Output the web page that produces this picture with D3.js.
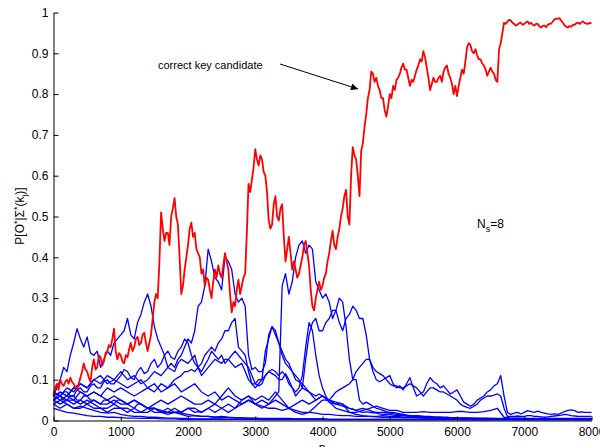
<!DOCTYPE html>
<html>
<head>
<meta charset="utf-8">
<script src="https://cdn.jsdelivr.net/npm/d3@7"></script>
<style>
body { margin: 0; background: #fff; }
svg { display: block; font-family: "Liberation Sans", Arial, Helvetica, sans-serif; }
</style>
</head>
<body>
<svg id="chart" width="600" height="447"></svg>
<script>
// tick labels
var xTicks = [0, 1000, 2000, 3000, 4000, 5000, 6000, 7000, 8000];
var yTicks = [0, 0.1, 0.2, 0.3, 0.4, 0.5, 0.6, 0.7, 0.8, 0.9, 1];

// the correct key candidate, sampled every 25 n
var redStep = 25;
var correctKey = [
	0.06, 0.08, 0.09, 0.075, 0.10, 0.09, 0.085, 0.095, 0.10, 0.09, 0.105, 0.095, 0.09, 0.08, 0.076, 0.09, 0.105, 0.12, 0.14, 0.125,
	0.12, 0.105, 0.095, 0.13, 0.15, 0.125, 0.13, 0.16, 0.155, 0.135, 0.145, 0.165, 0.17, 0.185, 0.18, 0.20, 0.225, 0.17, 0.15, 0.165,
	0.16, 0.145, 0.14, 0.16, 0.155, 0.175, 0.19, 0.17, 0.18, 0.20, 0.205, 0.185, 0.19, 0.21, 0.215, 0.19, 0.17, 0.19, 0.21, 0.25,
	0.29, 0.31, 0.30, 0.39, 0.51, 0.47, 0.44, 0.46, 0.46, 0.43, 0.50, 0.52, 0.545, 0.50, 0.48, 0.40, 0.31, 0.33, 0.37, 0.40,
	0.43, 0.47, 0.485, 0.45, 0.46, 0.42, 0.41, 0.40, 0.36, 0.37, 0.33, 0.35, 0.345, 0.32, 0.30, 0.34, 0.37, 0.35, 0.38, 0.36,
	0.35, 0.38, 0.41, 0.39, 0.37, 0.31, 0.265, 0.29, 0.28, 0.32, 0.345, 0.31, 0.33, 0.35, 0.36, 0.46, 0.58, 0.56, 0.59, 0.62,
	0.665, 0.64, 0.625, 0.65, 0.64, 0.61, 0.60, 0.56, 0.49, 0.47, 0.48, 0.53, 0.55, 0.50, 0.49, 0.52, 0.53, 0.45, 0.39, 0.42,
	0.45, 0.41, 0.37, 0.39, 0.37, 0.35, 0.36, 0.38, 0.40, 0.43, 0.44, 0.41, 0.38, 0.32, 0.28, 0.27, 0.30, 0.32, 0.34, 0.32,
	0.33, 0.35, 0.36, 0.39, 0.41, 0.44, 0.465, 0.43, 0.42, 0.45, 0.47, 0.50, 0.52, 0.55, 0.565, 0.50, 0.48, 0.60, 0.67, 0.65,
	0.64, 0.60, 0.55, 0.66, 0.68, 0.72, 0.75, 0.79, 0.81, 0.855, 0.85, 0.83, 0.84, 0.82, 0.81, 0.79, 0.79, 0.76, 0.745, 0.77,
	0.80, 0.79, 0.82, 0.81, 0.835, 0.84, 0.85, 0.865, 0.875, 0.86, 0.86, 0.84, 0.82, 0.835, 0.83, 0.845, 0.86, 0.87, 0.885, 0.88,
	0.905, 0.89, 0.865, 0.84, 0.81, 0.825, 0.84, 0.83, 0.83, 0.84, 0.845, 0.83, 0.855, 0.865, 0.87, 0.85, 0.84, 0.825, 0.80, 0.82,
	0.795, 0.82, 0.84, 0.86, 0.85, 0.88, 0.915, 0.925, 0.92, 0.905, 0.90, 0.91, 0.895, 0.885, 0.885, 0.875, 0.87, 0.86, 0.845, 0.855,
	0.865, 0.855, 0.85, 0.835, 0.83, 0.91, 0.925, 0.95, 0.975, 0.972, 0.978, 0.982, 0.98, 0.975, 0.972, 0.968, 0.97, 0.974, 0.975, 0.97,
	0.972, 0.976, 0.978, 0.972, 0.975, 0.97, 0.968, 0.972, 0.972, 0.966, 0.963, 0.967, 0.968, 0.964, 0.97, 0.972, 0.973, 0.978, 0.983, 0.985,
	0.985, 0.986, 0.98, 0.975, 0.968, 0.965, 0.963, 0.967, 0.965, 0.97, 0.97, 0.974, 0.975, 0.972, 0.976, 0.978, 0.974, 0.973, 0.972, 0.975,
	0.973
];

// wrong key candidates; the prominent ones every 50 n, the flat ones every 100 n
var wrongP = [
	0.06, 0.08, 0.10, 0.13, 0.12, 0.16, 0.19, 0.225, 0.20, 0.18, 0.205, 0.165, 0.16, 0.17, 0.13, 0.15, 0.17, 0.16, 0.19, 0.20,
	0.21, 0.22, 0.25, 0.21, 0.20, 0.24, 0.26, 0.29, 0.31, 0.28, 0.23, 0.20, 0.18, 0.16, 0.13, 0.14, 0.13, 0.15, 0.16, 0.18,
	0.20, 0.19, 0.22, 0.28, 0.29, 0.33, 0.42, 0.39, 0.35, 0.34, 0.32, 0.40, 0.39, 0.37, 0.31, 0.29, 0.30, 0.28, 0.16, 0.125,
	0.13, 0.12, 0.12, 0.14, 0.21, 0.23, 0.21, 0.19, 0.17, 0.15, 0.14, 0.12, 0.10, 0.095, 0.09, 0.08, 0.07, 0.065, 0.06, 0.065,
	0.06, 0.055, 0.05, 0.045, 0.04, 0.042, 0.04, 0.035, 0.03, 0.028, 0.025, 0.022, 0.02, 0.021, 0.02, 0.019, 0.018, 0.016, 0.015, 0.015,
	0.015, 0.013, 0.012, 0.012, 0.012, 0.011, 0.01, 0.01, 0.01, 0.01, 0.01, 0.009, 0.008, 0.008, 0.008, 0.008, 0.007, 0.007, 0.007, 0.007,
	0.006, 0.006, 0.006, 0.006, 0.005, 0.005, 0.005, 0.005, 0.005, 0.005, 0.004, 0.004, 0.004, 0.004, 0.004, 0.004, 0.004, 0.004, 0.004, 0.004,
	0.004, 0.004, 0.003, 0.003, 0.003, 0.003, 0.003, 0.003, 0.003, 0.003, 0.003, 0.003, 0.003, 0.003, 0.003, 0.003, 0.003, 0.003, 0.003, 0.003,
	0.003
];
var wrongQ = [
	0.05, 0.055, 0.06, 0.05, 0.05, 0.06, 0.06, 0.05, 0.05, 0.06, 0.06, 0.05, 0.05, 0.045, 0.04, 0.05, 0.05, 0.045, 0.04, 0.05,
	0.05, 0.045, 0.04, 0.035, 0.03, 0.04, 0.04, 0.035, 0.03, 0.03, 0.03, 0.025, 0.02, 0.025, 0.03, 0.025, 0.02, 0.022, 0.02, 0.025,
	0.03, 0.025, 0.02, 0.022, 0.02, 0.025, 0.03, 0.025, 0.02, 0.025, 0.03, 0.035, 0.04, 0.035, 0.03, 0.035, 0.04, 0.045, 0.05, 0.045,
	0.04, 0.045, 0.05, 0.045, 0.04, 0.05, 0.06, 0.07, 0.33, 0.36, 0.31, 0.34, 0.40, 0.43, 0.44, 0.41, 0.43, 0.42, 0.34, 0.32,
	0.30, 0.31, 0.29, 0.25, 0.27, 0.30, 0.29, 0.23, 0.15, 0.10, 0.10, 0.05, 0.04, 0.045, 0.04, 0.035, 0.03, 0.028, 0.025, 0.022,
	0.02, 0.02, 0.018, 0.016, 0.015, 0.013, 0.012, 0.011, 0.01, 0.009, 0.008, 0.008, 0.008, 0.007, 0.007, 0.007, 0.007, 0.006, 0.006, 0.006,
	0.006, 0.005, 0.005, 0.005, 0.005, 0.005, 0.005, 0.004, 0.004, 0.004, 0.004, 0.004, 0.004, 0.004, 0.004, 0.004, 0.004, 0.004, 0.004, 0.004,
	0.004, 0.004, 0.004, 0.003, 0.003, 0.003, 0.003, 0.003, 0.003, 0.003, 0.003, 0.003, 0.003, 0.003, 0.003, 0.003, 0.003, 0.003, 0.003, 0.003,
	0.003
];
var wrongR = [
	0.07, 0.065, 0.06, 0.07, 0.07, 0.06, 0.06, 0.075, 0.08, 0.07, 0.07, 0.085, 0.09, 0.08, 0.08, 0.095, 0.10, 0.09, 0.09, 0.10,
	0.11, 0.125, 0.12, 0.105, 0.10, 0.12, 0.13, 0.115, 0.12, 0.14, 0.15, 0.13, 0.14, 0.16, 0.17, 0.155, 0.15, 0.17, 0.18, 0.20,
	0.19, 0.16, 0.14, 0.13, 0.12, 0.135, 0.15, 0.17, 0.16, 0.15, 0.16, 0.14, 0.15, 0.16, 0.17, 0.16, 0.15, 0.14, 0.13, 0.11,
	0.09, 0.085, 0.09, 0.11, 0.12, 0.115, 0.11, 0.10, 0.10, 0.115, 0.10, 0.08, 0.06, 0.07, 0.08, 0.15, 0.21, 0.24, 0.25, 0.22,
	0.22, 0.24, 0.25, 0.27, 0.27, 0.24, 0.22, 0.25, 0.26, 0.28, 0.27, 0.25, 0.25, 0.21, 0.15, 0.12, 0.10, 0.095, 0.10, 0.105,
	0.11, 0.09, 0.08, 0.085, 0.075, 0.09, 0.105, 0.08, 0.06, 0.065, 0.07, 0.09, 0.105, 0.095, 0.09, 0.08, 0.085, 0.075, 0.065, 0.07,
	0.075, 0.06, 0.045, 0.04, 0.035, 0.04, 0.05, 0.055, 0.06, 0.07, 0.075, 0.085, 0.09, 0.11, 0.06, 0.02, 0.015, 0.018, 0.02, 0.016,
	0.02, 0.024, 0.022, 0.02, 0.023, 0.02, 0.018, 0.016, 0.015, 0.016, 0.015, 0.018, 0.022, 0.025, 0.026, 0.024, 0.02, 0.021, 0.02, 0.02,
	0.02
];
var wrongS = [
	0.05, 0.055, 0.06, 0.07, 0.08, 0.075, 0.07, 0.08, 0.09, 0.085, 0.08, 0.09, 0.10, 0.095, 0.09, 0.10, 0.11, 0.105, 0.10, 0.11,
	0.12, 0.11, 0.10, 0.105, 0.11, 0.10, 0.09, 0.095, 0.10, 0.11, 0.12, 0.115, 0.11, 0.12, 0.13, 0.125, 0.12, 0.14, 0.15, 0.145,
	0.14, 0.15, 0.16, 0.13, 0.11, 0.12, 0.13, 0.14, 0.15, 0.145, 0.14, 0.15, 0.15, 0.14, 0.13, 0.135, 0.14, 0.12, 0.10, 0.09,
	0.08, 0.09, 0.10, 0.17, 0.20, 0.23, 0.22, 0.19, 0.16, 0.14, 0.13, 0.12, 0.11, 0.10, 0.08, 0.075, 0.07, 0.06, 0.05, 0.055,
	0.06, 0.055, 0.05, 0.06, 0.07, 0.075, 0.08, 0.085, 0.09, 0.10, 0.12, 0.13, 0.14, 0.15, 0.15, 0.13, 0.12, 0.115, 0.11, 0.10,
	0.09, 0.085, 0.085, 0.08, 0.08, 0.085, 0.09, 0.085, 0.08, 0.07, 0.06, 0.07, 0.08, 0.08, 0.075, 0.07, 0.07, 0.065, 0.06, 0.055,
	0.05, 0.04, 0.035, 0.032, 0.03, 0.035, 0.04, 0.05, 0.055, 0.06, 0.06, 0.062, 0.065, 0.06, 0.03, 0.01, 0.01, 0.01, 0.011, 0.01,
	0.01, 0.012, 0.012, 0.01, 0.01, 0.009, 0.008, 0.009, 0.01, 0.011, 0.012, 0.013, 0.015, 0.014, 0.012, 0.011, 0.01, 0.01, 0.01, 0.01,
	0.01
];
var wrongT = [
	0.04, 0.045, 0.05, 0.055, 0.06, 0.055, 0.05, 0.06, 0.07, 0.065, 0.06, 0.065, 0.07, 0.065, 0.06, 0.07, 0.08, 0.075, 0.07, 0.075,
	0.08, 0.075, 0.07, 0.065, 0.06, 0.065, 0.07, 0.075, 0.08, 0.075, 0.07, 0.08, 0.09, 0.085, 0.08, 0.09, 0.10, 0.105, 0.11, 0.12,
	0.12, 0.125, 0.12, 0.13, 0.14, 0.16, 0.17, 0.18, 0.17, 0.19, 0.20, 0.22, 0.22, 0.24, 0.25, 0.18, 0.17, 0.16, 0.12, 0.09,
	0.09, 0.10, 0.10, 0.11, 0.12, 0.125, 0.12, 0.11, 0.12, 0.11, 0.09, 0.08, 0.07, 0.08, 0.11, 0.18, 0.24, 0.22, 0.16, 0.11,
	0.08, 0.06, 0.045, 0.042, 0.04, 0.038, 0.035, 0.032, 0.03, 0.028, 0.025, 0.028, 0.03, 0.027, 0.025, 0.022, 0.02, 0.02, 0.02, 0.019,
	0.018, 0.017, 0.015, 0.015, 0.015, 0.013, 0.012, 0.012, 0.012, 0.011, 0.01, 0.01, 0.01, 0.009, 0.008, 0.008, 0.008, 0.008, 0.007, 0.007,
	0.007, 0.006, 0.006, 0.006, 0.006, 0.005, 0.005, 0.005, 0.005, 0.005, 0.005, 0.005, 0.004, 0.004, 0.004, 0.004, 0.004, 0.004, 0.004, 0.004,
	0.003, 0.003, 0.003, 0.003, 0.003, 0.003, 0.003, 0.003, 0.003, 0.003, 0.003, 0.003, 0.003, 0.003, 0.003, 0.003, 0.003, 0.003, 0.003, 0.003,
	0.003
];
var wrongM = [
	0.06, 0.07, 0.06, 0.08, 0.09, 0.08, 0.10, 0.11, 0.09, 0.10, 0.09,
	0.08, 0.09, 0.10, 0.08, 0.09, 0.07, 0.08, 0.09, 0.07, 0.08,
	0.09, 0.07, 0.06, 0.07, 0.05, 0.06, 0.05, 0.04, 0.05, 0.04,
	0.035, 0.03, 0.03, 0.025, 0.03, 0.025, 0.02, 0.02, 0.018, 0.015,
	0.015, 0.013, 0.012, 0.012, 0.01, 0.01, 0.01, 0.009, 0.008, 0.008,
	0.008, 0.007, 0.007, 0.007, 0.006, 0.006, 0.006, 0.006, 0.005, 0.005,
	0.005, 0.005, 0.005, 0.005, 0.005, 0.005, 0.005, 0.005, 0.005, 0.005,
	0.004, 0.004, 0.004, 0.004, 0.004, 0.004, 0.004, 0.004, 0.004, 0.004
];
var wrongU = [
	0.05, 0.04, 0.05, 0.04, 0.05, 0.04, 0.05, 0.04, 0.04, 0.05, 0.04,
	0.04, 0.05, 0.04, 0.03, 0.04, 0.05, 0.04, 0.05, 0.06, 0.05,
	0.04, 0.04, 0.05, 0.04, 0.06, 0.08, 0.06, 0.05, 0.06, 0.04,
	0.03, 0.04, 0.05, 0.04, 0.03, 0.04, 0.05, 0.04, 0.05, 0.06,
	0.045, 0.03, 0.025, 0.02, 0.02, 0.025, 0.03, 0.035, 0.03, 0.025,
	0.025, 0.02, 0.02, 0.02, 0.022, 0.02, 0.02, 0.02, 0.02, 0.022,
	0.022, 0.02, 0.02, 0.022, 0.025, 0.03, 0.008, 0.006, 0.006, 0.005,
	0.005, 0.005, 0.005, 0.005, 0.005, 0.005, 0.005, 0.005, 0.005, 0.005
];
var wrongV = [
	0.04, 0.03, 0.04, 0.03, 0.03, 0.04, 0.03, 0.03, 0.02, 0.03, 0.03,
	0.02, 0.03, 0.02, 0.02, 0.03, 0.02, 0.02, 0.03, 0.02, 0.03,
	0.03, 0.02, 0.03, 0.04, 0.03, 0.02, 0.03, 0.05, 0.06, 0.05,
	0.06, 0.05, 0.07, 0.05, 0.03, 0.02, 0.015, 0.02, 0.035, 0.05,
	0.05, 0.045, 0.04, 0.02, 0.015, 0.012, 0.01, 0.01, 0.012, 0.01,
	0.01, 0.008, 0.008, 0.007, 0.007, 0.006, 0.006, 0.006, 0.005, 0.005,
	0.005, 0.005, 0.004, 0.004, 0.004, 0.004, 0.004, 0.004, 0.004, 0.003,
	0.003, 0.003, 0.003, 0.003, 0.003, 0.003, 0.003, 0.003, 0.003, 0.003
];
var wrongW = [
	0.07, 0.06, 0.05, 0.05, 0.04, 0.05, 0.04, 0.03, 0.03, 0.04, 0.03,
	0.03, 0.02, 0.02, 0.03, 0.02, 0.02, 0.015, 0.02, 0.015, 0.01,
	0.012, 0.01, 0.01, 0.008, 0.01, 0.008, 0.007, 0.007, 0.006, 0.006,
	0.005, 0.005, 0.005, 0.005, 0.005, 0.004, 0.004, 0.004, 0.004, 0.004,
	0.003, 0.003, 0.003, 0.003, 0.003, 0.003, 0.003, 0.003, 0.003, 0.003,
	0.003, 0.003, 0.003, 0.003, 0.003, 0.003, 0.003, 0.003, 0.003, 0.003,
	0.002, 0.002, 0.002, 0.002, 0.002, 0.002, 0.002, 0.002, 0.002, 0.002,
	0.002, 0.002, 0.002, 0.002, 0.002, 0.002, 0.002, 0.002, 0.002, 0.002
];
var wrongX = [
	0.03, 0.025, 0.02, 0.018, 0.015, 0.012, 0.01, 0.01, 0.008, 0.008, 0.007,
	0.006, 0.006, 0.005, 0.005, 0.005, 0.004, 0.004, 0.004, 0.003, 0.003,
	0.003, 0.003, 0.003, 0.003, 0.003, 0.003, 0.003, 0.003, 0.003, 0.003,
	0.002, 0.002, 0.002, 0.002, 0.002, 0.002, 0.002, 0.002, 0.002, 0.002,
	0.002, 0.002, 0.002, 0.002, 0.002, 0.002, 0.002, 0.002, 0.002, 0.002,
	0.002, 0.002, 0.002, 0.002, 0.002, 0.002, 0.002, 0.002, 0.002, 0.002,
	0.002, 0.002, 0.002, 0.002, 0.002, 0.002, 0.002, 0.002, 0.002, 0.002,
	0.002, 0.002, 0.002, 0.002, 0.002, 0.002, 0.002, 0.002, 0.002, 0.002
];
var wrongY = [
	0.06, 0.05, 0.04, 0.03, 0.035, 0.03, 0.025, 0.02, 0.018, 0.02, 0.015,
	0.012, 0.01, 0.01, 0.008, 0.008, 0.007, 0.006, 0.006, 0.005, 0.005,
	0.004, 0.004, 0.004, 0.004, 0.004, 0.003, 0.003, 0.003, 0.003, 0.003,
	0.003, 0.003, 0.003, 0.003, 0.003, 0.003, 0.003, 0.003, 0.003, 0.003,
	0.002, 0.002, 0.002, 0.002, 0.002, 0.002, 0.002, 0.002, 0.002, 0.002,
	0.002, 0.002, 0.002, 0.002, 0.002, 0.002, 0.002, 0.002, 0.002, 0.002,
	0.002, 0.002, 0.002, 0.002, 0.002, 0.002, 0.002, 0.002, 0.002, 0.002,
	0.002, 0.002, 0.002, 0.002, 0.002, 0.002, 0.002, 0.002, 0.002, 0.002
];
var wrongZ = [
	0.05, 0.07, 0.06, 0.08, 0.07, 0.06, 0.07, 0.06, 0.05, 0.06, 0.05,
	0.04, 0.05, 0.04, 0.03, 0.03, 0.025, 0.02, 0.02, 0.018, 0.015,
	0.012, 0.01, 0.01, 0.008, 0.008, 0.007, 0.006, 0.006, 0.005, 0.005,
	0.004, 0.004, 0.004, 0.004, 0.004, 0.004, 0.004, 0.004, 0.004, 0.004,
	0.003, 0.003, 0.003, 0.003, 0.003, 0.003, 0.003, 0.003, 0.003, 0.003,
	0.003, 0.003, 0.003, 0.003, 0.003, 0.003, 0.003, 0.003, 0.003, 0.003,
	0.003, 0.003, 0.003, 0.003, 0.003, 0.003, 0.003, 0.003, 0.003, 0.003,
	0.003, 0.003, 0.003, 0.003, 0.003, 0.003, 0.003, 0.003, 0.003, 0.003
];
var wrongKeys = [wrongW, wrongX, wrongY, wrongZ, wrongV, wrongU, wrongM, wrongT, wrongS, wrongR, wrongQ, wrongP];
var wrongSteps = [100, 100, 100, 100, 100, 100, 100, 50, 50, 50, 50, 50];

var svg = d3.select("#chart");

var x = d3.scaleLinear().domain([0, 8000]).range([53.5, 591.5]);
var y = d3.scaleLinear().domain([0, 1]).range([420.5, 12.5]);

function lineFor(step) {
	return d3.line()
		.x(function(d, i) { return x(i * step); })
		.y(function(d) { return y(d); });
}

// wrong candidates first, the correct one on top
svg.append("g")
	.selectAll("path")
	.data(wrongKeys)
	.enter().append("path")
	.attr("d", function(d, i) { return lineFor(wrongSteps[i])(d); })
	.attr("fill", "none")
	.attr("stroke", "#0000ff")
	.attr("stroke-width", 1.3)
	.attr("stroke-linejoin", "round");

svg.append("path")
	.datum(correctKey)
	.attr("d", lineFor(redStep))
	.attr("fill", "none")
	.attr("stroke", "#ff0000")
	.attr("stroke-width", 1.8)
	.attr("stroke-linejoin", "round");

// axes, matlab style: ticks pointing inwards, no box
var xAxis = svg.append("g")
	.attr("transform", "translate(0,420.5)")
	.call(d3.axisBottom(x).tickValues(xTicks).tickSizeInner(-4).tickSizeOuter(0).tickPadding(7)
		.tickFormat(function(d) { return String(d); }));
var yAxis = svg.append("g")
	.attr("transform", "translate(53.5,0)")
	.call(d3.axisLeft(y).tickValues(yTicks).tickSizeInner(-5).tickSizeOuter(0).tickPadding(5)
		.tickFormat(function(d) { return String(d); }));

[xAxis, yAxis].forEach(function(axis) {
	axis.selectAll("text").attr("font-size", 12).attr("fill", "#000")
		.attr("font-family", "'Liberation Sans', Arial, sans-serif");
	axis.selectAll("line, path").attr("stroke", "#000");
});

// axis labels
svg.append("text")
	.attr("x", 322)
	.attr("y", 452)
	.attr("text-anchor", "middle")
	.attr("font-size", 12)
	.text("n");

var ylabel = svg.append("text")
	.attr("transform", "translate(24,216) rotate(-90)")
	.attr("text-anchor", "middle")
	.attr("font-size", 12);
ylabel.append("tspan").text("P[O");
ylabel.append("tspan").attr("dy", -4).attr("font-size", 9).text("*");
ylabel.append("tspan").attr("dy", 4).text("|Σ");
ylabel.append("tspan").attr("dy", -4).attr("font-size", 9).text("*");
ylabel.append("tspan").attr("dy", 4).text("(k");
ylabel.append("tspan").attr("dy", 3).attr("font-size", 8).text("j");
ylabel.append("tspan").attr("dy", -3).text(")]");

// annotation
svg.append("defs").append("marker")
	.attr("id", "head")
	.attr("viewBox", "0 0 10 10")
	.attr("refX", 10)
	.attr("refY", 5)
	.attr("markerWidth", 9)
	.attr("markerHeight", 7)
	.attr("markerUnits", "userSpaceOnUse")
	.attr("orient", "auto")
	.append("path")
	.attr("d", "M0,0L10,5L0,10z")
	.attr("fill", "#000");

svg.append("line")
	.attr("x1", 280).attr("y1", 64)
	.attr("x2", 358).attr("y2", 89)
	.attr("stroke", "#000")
	.attr("stroke-width", 1)
	.attr("marker-end", "url(#head)");

svg.append("text")
	.attr("x", 158)
	.attr("y", 69)
	.attr("font-size", 11)
	.text("correct key candidate");

var ns = svg.append("text")
	.attr("x", 477)
	.attr("y", 228)
	.attr("font-size", 12);
ns.append("tspan").text("N");
ns.append("tspan").attr("dy", 4).attr("font-size", 9).text("s");
ns.append("tspan").attr("dy", -4).text("=8");
</script>
</body>
</html>
